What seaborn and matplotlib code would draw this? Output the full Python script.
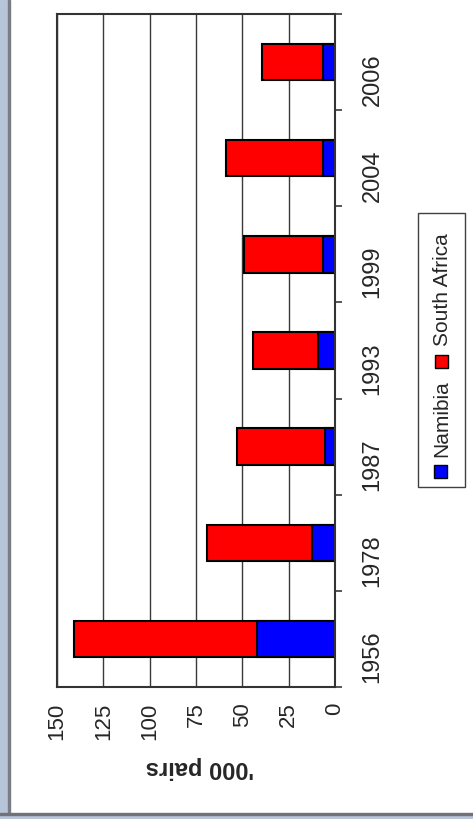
import numpy as np
import pandas as pd
import matplotlib
matplotlib.use('Agg')
import matplotlib.pyplot as plt
from matplotlib.patches import Rectangle
import seaborn as sns

# values in '000 pairs
years = ['1956', '1978', '1987', '1993', '1999', '2004', '2006']
namibia = [42, 12.6, 5.4, 9, 6.6, 6.6, 6.6]
south_africa = [99, 56.6, 47.3, 35, 42.3, 52.2, 32.6]
value_ticks = [0, 25, 50, 75, 100, 125, 150]

df = pd.DataFrame({'year': years, 'Namibia': namibia, 'South Africa': south_africa})
df['total'] = df['Namibia'] + df['South Africa']

sns.set_style('white')
plt.rcParams['font.family'] = ['Liberation Sans', 'DejaVu Sans']

W, H = 473, 819
fig = plt.figure(figsize=(W / 100, H / 100), dpi=100)

def fx(x):
    return x / W

def fy(y):
    return 1 - y / H

# light blue window frame at left and bottom
fig.patches.append(Rectangle((0, 0), fx(8), 1, transform=fig.transFigure, color='#b7c5d9', zorder=-1))
fig.patches.append(Rectangle((fx(8), 0), fx(2), 1, transform=fig.transFigure, color='#7a7d84', zorder=-1))
fig.patches.append(Rectangle((0, 0), 1, fy(815), transform=fig.transFigure, color='#b7c5d9', zorder=-1))
fig.patches.append(Rectangle((0, fy(815)), 1, fy(812.5) - fy(815), transform=fig.transFigure, color='#6f7278', zorder=-1))

ax = fig.add_axes([fx(57), fy(687), fx(335) - fx(57), fy(14) - fy(687)])
order = years[::-1]
sns.barplot(data=df, x='total', y='year', order=order, orient='h', color='#ff0000',
            saturation=1, width=0.38, edgecolor='black', linewidth=1.5, errorbar=None, ax=ax)
sns.barplot(data=df, x='Namibia', y='year', order=order, orient='h', color='#0000ff',
            saturation=1, width=0.38, edgecolor='black', linewidth=1.5, errorbar=None, ax=ax)

ax.set_xlim(150, 0)
ax.set_ylim(6.5, -0.5)
ax.set_xticks(value_ticks)
ax.set_xticklabels([str(v) for v in value_ticks])
ax.tick_params(axis='x', length=0, pad=11, labelsize=16, labelrotation=90)
ax.xaxis.grid(True, color='#3a3a3a', linewidth=1)
ax.set_axisbelow(True)

ax.yaxis.tick_right()
ax.tick_params(axis='y', which='major', length=0, pad=19, labelsize=17, labelrotation=90)
ax.set_yticks(np.arange(-0.5, 7, 1), minor=True)
ax.tick_params(axis='y', which='minor', length=5, width=1.2, color='#3a3a3a',
               right=True, left=False)
ax.set_xlabel('')
ax.set_ylabel('')
for s in ax.spines.values():
    s.set_visible(True)
    s.set_color('#333333')
    s.set_linewidth(1.5)

fig.text(fx(200), fy(767), "'000 pairs", rotation=180, ha='center', va='center',
         fontsize=17, fontweight='bold')

# legend, turned on its side
fig.patches.append(Rectangle((fx(418), fy(487)), fx(465) - fx(418), fy(213) - fy(487),
                             transform=fig.transFigure, fill=False, edgecolor='#404040', lw=1))
fig.patches.append(Rectangle((fx(434), fy(478)), fx(13), fy(465) - fy(478),
                             transform=fig.transFigure, facecolor='#0000ff', edgecolor='black', lw=1))
fig.patches.append(Rectangle((fx(435), fy(368)), fx(13), fy(355) - fy(368),
                             transform=fig.transFigure, facecolor='#ff0000', edgecolor='black', lw=1))
fig.text(fx(442), fy(457), 'Namibia', rotation=90, ha='center', va='bottom', fontsize=15)
fig.text(fx(442), fy(346), 'South Africa', rotation=90, ha='center', va='bottom', fontsize=15)

fig.savefig('out.png', dpi=100)
